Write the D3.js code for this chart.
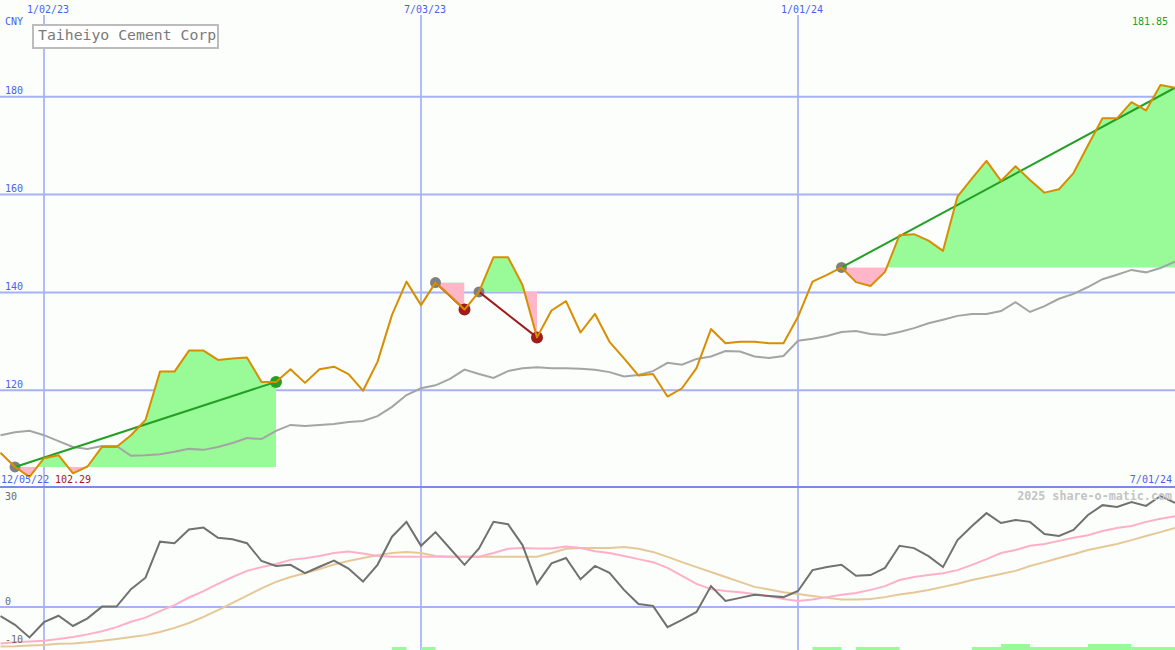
<!DOCTYPE html>
<html><head><meta charset="utf-8">
<script src="https://cdn.jsdelivr.net/npm/d3@7"></script>
<style>
body{margin:0;background:#fbfefb}
svg{display:block}
text{font-family:"DejaVu Sans Mono","Liberation Mono",monospace}
</style>
</head><body>
<svg id="c" width="1175" height="650"></svg>
<script>
// ---------- DATA ----------
const firstWeek = "2022-12-12", lastWeek = "2024-07-01";
const price = [107.2,104.3,102.29,106.1,106.7,103.0,104.4,108.4,108.4,110.8,113.9,123.8,123.8,128.1,128.1,126.2,126.5,126.7,121.7,121.7,
  124.3,121.5,124.3,124.8,123.3,119.9,125.8,135.4,142.2,137.4,142.0,139.3,136.5,140.1,147.2,147.2,141.5,130.8,136.3,138.2,
  131.8,135.6,129.9,126.5,123.0,123.3,118.7,120.4,124.5,132.5,129.6,129.9,129.9,129.6,129.6,135.0,142.2,143.6,145.1,142.1,
  141.3,144.2,151.7,151.9,150.6,148.5,159.6,163.3,166.9,162.8,165.8,163.0,160.4,161.1,164.4,170.1,175.6,175.6,178.9,177.2,
  182.4,181.85];
const movingAvg = [110.8,111.4,111.7,110.8,109.6,108.4,108.0,108.6,108.6,106.6,106.7,106.9,107.4,108.0,107.8,108.4,109.2,110.2,110.0,111.7,
  112.9,112.7,112.9,113.1,113.5,113.7,114.7,116.6,119.0,120.4,121.0,122.3,124.2,123.3,122.5,123.9,124.5,124.7,124.5,124.5,
  124.4,124.2,123.7,122.8,123.1,123.9,125.6,125.2,126.4,126.9,128.0,127.9,126.9,126.6,127.0,130.1,130.5,131.1,131.9,132.1,
  131.5,131.3,131.9,132.7,133.7,134.4,135.2,135.6,135.6,136.2,138.0,136.0,137.2,138.7,139.7,141.1,142.7,143.6,144.6,144.1,
  145.0,146.3];
const oscMain = [-2.4,-4.7,-8.0,-4.0,-2.3,-5.0,-3.0,0.1,0.1,4.7,7.7,17.2,16.8,20.4,20.9,18.2,17.8,16.8,12.1,10.8,
  11.1,8.9,10.6,12.2,10.1,6.7,11.1,18.5,22.4,16.1,19.7,15.4,11.1,15.4,22.4,21.8,16.3,6.1,11.5,12.9,
  7.3,10.8,9.0,4.5,0.8,0.3,-5.3,-3.4,-1.3,5.5,1.6,2.4,3.2,2.9,2.6,4.2,9.7,10.5,11.1,8.2,
  8.4,10.3,16.1,15.5,13.4,10.5,17.6,21.3,24.7,22.1,22.9,22.4,19.2,18.7,20.3,24.2,26.8,26.3,27.6,26.6,
  29.2,27.4];
const oscFast = [-9.6,-9.3,-9.1,-8.9,-8.4,-7.9,-7.2,-6.4,-5.3,-3.9,-2.8,-1.1,0.5,2.5,4.2,6.1,7.9,9.5,10.5,11.3,
  12.4,12.8,13.4,14.2,14.6,14.1,13.4,13.2,13.2,13.2,13.2,13.2,13.2,13.2,14.2,15.3,15.5,15.4,15.4,15.9,
  15.5,14.7,14.2,13.4,12.6,11.8,10.3,8.2,6.1,4.7,4.2,3.9,3.4,2.9,2.1,1.6,2.0,2.6,3.2,3.7,
  4.5,5.5,7.1,7.9,8.4,8.9,9.7,11.1,12.6,14.2,15.0,16.1,16.6,17.4,18.2,18.9,20.0,20.8,21.3,22.4,
  23.2,23.9];
const oscSlow = [-10.4,-10.3,-10.1,-10.0,-9.7,-9.6,-9.3,-8.9,-8.4,-7.9,-7.4,-6.6,-5.5,-4.2,-2.6,-0.8,1.1,3.0,4.9,6.6,
  7.9,8.9,10.0,11.2,12.1,12.9,13.6,14.2,14.5,14.2,13.4,13.2,13.2,13.2,13.2,13.2,13.2,13.2,14.2,15.3,
  15.5,15.5,15.5,15.8,15.3,14.5,13.2,11.8,10.5,9.2,7.9,6.6,5.3,4.6,3.9,3.4,2.9,2.4,2.0,2.0,
  2.1,2.6,3.3,3.8,4.5,5.3,6.1,7.1,7.9,8.7,9.5,10.8,11.8,12.9,13.9,15.0,15.8,16.6,17.6,18.7,
  19.7,20.8];
const priceTicks = [120,140,160,180];
const oscTicks = [30,0,-10];
const dateTicks = ["2023-01-02","2023-07-03","2024-01-01"];
const sigStart = ["2022-12-19","2023-07-10","2023-07-31","2024-01-22"];
const sigEnd   = ["2023-04-24","2023-07-24","2023-08-28","2024-07-01"];
const sigType  = ["buy","sell","sell","buy"];
const sigOpen  = [false,false,false,true];
const barStart = ["2023-06-19","2023-07-03","2024-01-08","2024-01-29","2024-03-25","2024-04-08","2024-04-22","2024-05-20","2024-06-10"];
const barEnd   = ["2023-06-26","2023-07-10","2024-01-22","2024-02-19","2024-04-08","2024-04-22","2024-05-20","2024-06-10","2024-07-01"];
const barLevel = [1,1,1,1,1,2,1,2,1];
const title = "Taiheiyo Cement Corp";
const currency = "CNY";
const lastLabel = "181.85", lowLabel = "102.29";
const startLabel = "12/05/22", endLabel = "7/01/24";
const credit = "2025 share-o-matic.com";

// ---------- SETUP ----------
const W = 1175, H = 650, SEP = 487;
const P = d3.utcParse("%Y-%m-%d");
const dates = d3.utcMonday.range(P(firstWeek), d3.utcDay.offset(P(lastWeek), 1));
const x = d3.scaleUtc().domain([P("2023-01-02"), P("2024-07-01")]).range([44, 1175]);
const y = d3.scaleLinear().domain([100, 200]).range([488, -1]);
const yo = d3.scaleLinear().domain([-10, 30]).range([645, 493]);
const yb = d3.scaleLinear().domain([0, 2]).range([650, 644]);
const fmt = d3.utcFormat("%-m/%d/%y");

const C = {grid:"#a6b2f4", sep:"#7b8ae8", blue:"#4d5ff0", price:"#d88e00", ma:"#a4a4a4",
  green:"#98fb98", pink:"#ffb6c8", trendG:"#23a023", trendR:"#a01c1c", grey:"#808080",
  oscMain:"#717171", oscFast:"#ffb0c8", oscSlow:"#e6c898"};

const svg = d3.select("#c");
svg.append("rect").attr("width", W).attr("height", H).attr("fill", "#fbfefb");
const defs = svg.append("defs");
defs.append("clipPath").attr("id","mainClip").append("rect").attr("x",0).attr("y",0).attr("width",W).attr("height",SEP);
defs.append("clipPath").attr("id","lowClip").append("rect").attr("x",0).attr("y",SEP).attr("width",W).attr("height",H-SEP);

const pts = dates.map((d,i)=>({d, p:price[i], m:movingAvg[i], o:oscMain[i], f:oscFast[i], s:oscSlow[i]}));
const idx = s => d3.bisector(p=>p.d).left(pts, P(s));

// gridlines
const g = svg.append("g");
g.selectAll(".hg").data(priceTicks).join("line")
  .attr("x1",0).attr("x2",W).attr("y1",d=>y(d)).attr("y2",d=>y(d))
  .attr("stroke",C.grid).attr("stroke-width",2);
g.selectAll(".vg").data(dateTicks).join("line")
  .attr("x1",d=>x(P(d))).attr("x2",d=>x(P(d))).attr("y1",15).attr("y2",H)
  .attr("stroke",C.grid).attr("stroke-width",1.7);
g.append("line").attr("x1",0).attr("x2",W).attr("y1",yo(0)).attr("y2",yo(0)).attr("stroke",C.grid).attr("stroke-width",2);

// signal fills
const fills = svg.append("g").attr("clip-path","url(#mainClip)");
sigStart.forEach((s,j)=>{
  const i0 = idx(s), i1 = idx(sigEnd[j]);
  const base = pts[i0].p;
  const seg = pts.slice(i0, i1+1);
  const x0 = x(pts[i0].d), x1 = x(pts[i1].d), by = y(base);
  const cu = "cu"+j, cd = "cd"+j;
  defs.append("clipPath").attr("id",cu).append("rect").attr("x",x0).attr("y",0).attr("width",x1-x0).attr("height",by);
  defs.append("clipPath").attr("id",cd).append("rect").attr("x",x0).attr("y",by).attr("width",x1-x0).attr("height",SEP-by);
  const area = d3.area().x(p=>x(p.d)).y0(by).y1(p=>y(p.p));
  fills.append("path").datum(seg).attr("d",area).attr("fill",C.green).attr("clip-path",`url(#${cu})`);
  fills.append("path").datum(seg).attr("d",area).attr("fill",C.pink).attr("clip-path",`url(#${cd})`);
});

// separator
svg.append("line").attr("x1",0).attr("x2",W).attr("y1",SEP).attr("y2",SEP).attr("stroke",C.sep).attr("stroke-width",2);

// lower bars
svg.append("g").selectAll("rect").data(barLevel).join("rect")
  .attr("x",(d,i)=>x(P(barStart[i]))).attr("width",(d,i)=>x(P(barEnd[i]))-x(P(barStart[i])))
  .attr("y",d=>yb(d)).attr("height",d=>yb(0)-yb(d)).attr("fill",C.green);

// lower lines
const low = svg.append("g").attr("clip-path","url(#lowClip)");
const lineO = k => d3.line().x(p=>x(p.d)).y(p=>yo(p[k]));
low.append("path").datum(pts).attr("d",lineO("s")).attr("fill","none").attr("stroke",C.oscSlow).attr("stroke-width",2);
low.append("path").datum(pts).attr("d",lineO("f")).attr("fill","none").attr("stroke",C.oscFast).attr("stroke-width",2);
low.append("path").datum(pts).attr("d",lineO("o")).attr("fill","none").attr("stroke",C.oscMain).attr("stroke-width",2);

// main lines
const main = svg.append("g").attr("clip-path","url(#mainClip)");
main.append("path").datum(pts).attr("d",d3.line().x(p=>x(p.d)).y(p=>y(p.m)))
  .attr("fill","none").attr("stroke",C.ma).attr("stroke-width",2);

// signal circles & trend lines
sigStart.forEach((s,j)=>{
  const a = pts[idx(s)], b = pts[idx(sigEnd[j])];
  const col = sigType[j]==="buy" ? C.trendG : C.trendR;
  main.append("circle").attr("cx",x(a.d)).attr("cy",y(a.p)).attr("r",5.5).attr("fill",C.grey);
  if(!sigOpen[j]) main.append("circle").attr("cx",x(b.d)).attr("cy",y(b.p)).attr("r",6).attr("fill",col);
  main.append("line").attr("x1",x(a.d)).attr("y1",y(a.p)).attr("x2",x(b.d)).attr("y2",y(b.p))
    .attr("stroke",col).attr("stroke-width",2);
});

main.append("path").datum(pts).attr("d",d3.line().x(p=>x(p.d)).y(p=>y(p.p)))
  .attr("fill","none").attr("stroke",C.price).attr("stroke-width",2).attr("stroke-linejoin","round");

// texts
const T = svg.append("g").attr("font-size",10);
T.selectAll(".pl").data(priceTicks).join("text").attr("x",5).attr("y",d=>y(d)-2.5).attr("fill",C.blue).text(d=>d);
T.selectAll(".dl").data(dateTicks).join("text").attr("x",d=>x(P(d))-17).attr("y",12.5).attr("fill",C.blue).text(d=>fmt(P(d)));
T.append("text").attr("x",5).attr("y",24.5).attr("fill",C.blue).text(currency);
T.append("text").attr("x",1168).attr("y",24.5).attr("text-anchor","end").attr("fill",C.trendG).text(lastLabel);
T.append("text").attr("x",1).attr("y",482.5).attr("fill",C.blue).text(startLabel);
T.append("text").attr("x",55).attr("y",482.5).attr("fill","#a81818").text(lowLabel);
T.append("text").attr("x",1172).attr("y",482.5).attr("text-anchor","end").attr("fill",C.blue).text(endLabel);
T.selectAll(".ol").data(oscTicks).join("text").attr("x",5)
  .attr("y",d=>Math.max(500, Math.min(646, yo(d)-2))).attr("fill","#6a6a6a").text(d=>d);
svg.append("text").attr("x",1172).attr("y",500).attr("text-anchor","end").attr("font-size",11.7)
  .attr("font-weight","bold").attr("fill","#c4c4c4").text(credit);

// title box
svg.append("rect").attr("x",33).attr("y",25).attr("width",185).attr("height",23)
  .attr("fill","#ffffff").attr("stroke","#bcbcbc").attr("stroke-width",2);
svg.append("text").attr("x",38).attr("y",40).attr("font-size",14.8).attr("fill","#7a7a7a").text(title);
</script>
</body></html>
